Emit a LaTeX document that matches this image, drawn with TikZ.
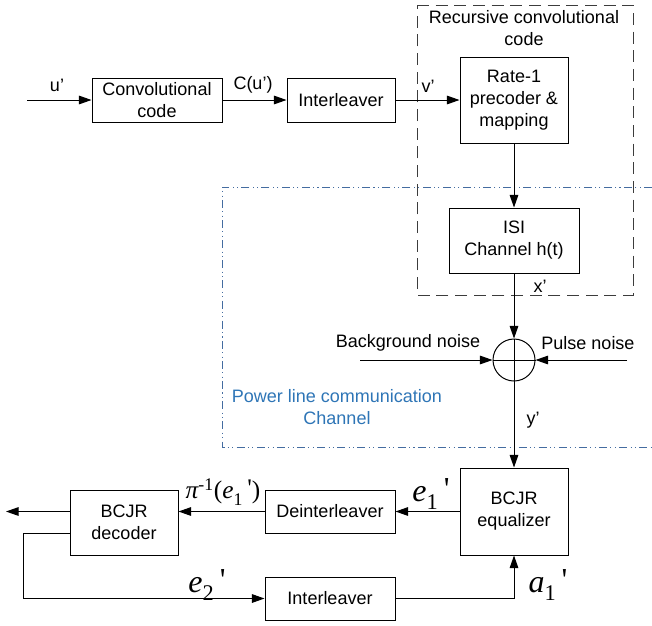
\documentclass[tikz,border=0pt]{standalone}
\usepackage{fontspec}
\setmainfont{Liberation Sans}
\newfontfamily\eqfont[Ligatures=TeXOff]{Liberation Serif}
\usetikzlibrary{arrows.meta,calc}

\definecolor{plcblue}{RGB}{46,117,182}
\definecolor{plcline}{RGB}{68,108,160}
\definecolor{rccgray}{RGB}{60,60,60}

% signal with subscript and straight prime, as set by an equation editor
\newcommand{\sigprm}[2]{{\itshape #1}\raisebox{-0.25ex}{\textsubscript{#2}}\,\raisebox{0.15ex}{'}}

\tikzset{every picture/.style={line width=0.75pt}}
\tikzset{
	blockbox/.style={draw, rectangle, inner sep=0pt, align=center, font=\fontsize{13.5}{16.5}\selectfont},
	sigarrow/.style={-{Triangle[length=9.5pt,width=6.5pt]}},
	lbl/.style={font=\fontsize{13.5}{16.5}\selectfont, align=center},
	mathlbl/.style={inner sep=0pt, font=\eqfont\fontsize{24}{26}\selectfont}}

\begin{document}
\begin{tikzpicture}[x=0.75pt,y=0.75pt,yscale=-1,xscale=1]
	\path[use as bounding box] (0,0) rectangle (652,625);

	%Shape: Dashed Rectangle [recursive convolutional code]
	\draw [color=rccgray, dash pattern={on 9pt off 5pt}] (417,5) -- (633,5) -- (633,295) -- (417,295) -- cycle ;
	%Shape: Dash-dot frame [power line channel]
	\draw [color=plcline, dash pattern={on 6pt off 2.5pt on 0.8pt off 2.5pt on 0.8pt off 2.5pt}] (652,187) -- (222,187) -- (222,447) -- (652,447) ;

	%Blocks
	\node [blockbox, minimum width=97.5pt, minimum height=33pt] (conv) at (157,100) {Convolutional\\code};
	\node [blockbox, minimum width=81pt, minimum height=33pt] (intl) at (341,100) {Interleaver};
	\node [blockbox, minimum width=81pt, minimum height=64.5pt] (prec) at (514,100) {Rate-1\\precoder \&\\mapping};
	\node [blockbox, minimum width=97.5pt, minimum height=48.75pt] (isi) at (514,240.5) {ISI\\Channel h(t)};
	\node [draw, circle, minimum size=31.5pt, inner sep=0pt] (sum) at (514,360) {};
	\draw (sum.north) -- (sum.south) (sum.west) -- (sum.east) ;
	\node [blockbox, minimum width=81pt, minimum height=65.25pt] (equ) at (514,511.5) {BCJR\\equalizer};
	\node [blockbox, minimum width=97.5pt, minimum height=32.25pt] (dint) at (330,511.5) {Deinterleaver};
	\node [blockbox, minimum width=97.5pt, minimum height=32.25pt] (intb) at (330,598.5) {Interleaver};
	\node [blockbox, minimum width=81pt, minimum height=48.75pt] (dec) at (124,522.5) {BCJR\\decoder};

	%Free ends
	\coordinate (uin) at (27,100);
	\coordinate (bgn) at (360,360);
	\coordinate (pln) at (627,360);
	\coordinate (uout) at (6,511.5);
	\coordinate (fbk) at (23,533);

	%Connectors
	\draw [sigarrow] (uin) -- (conv.west) ;
	\draw [sigarrow] (conv.east) -- (intl.west) ;
	\draw [sigarrow] (intl.east) -- (prec.west) ;
	\draw [sigarrow] (prec.south) -- (isi.north) ;
	\draw [sigarrow] (isi.south) -- (sum.north) ;
	\draw [sigarrow] (bgn) -- (sum.west) ;
	\draw [sigarrow] (pln) -- (sum.east) ;
	\draw [sigarrow] (sum.south) -- (equ.north) ;
	\draw [sigarrow] (equ.west) -- (dint.east) ;
	\draw [sigarrow] (dint.west) -- (dint.west -| dec.east) ;
	\draw [sigarrow] (dec.west |- uout) -- (uout) ;
	\draw [sigarrow] (dec.west |- fbk) -- (fbk) |- (intb.west) ;
	\draw [sigarrow] (intb.east) -| (equ.south) ;

	% Text Node
	\node [lbl] (rcc) at (524,28) {Recursive convolutional\\code};
	% Text Node
	\node [lbl, text=plcblue] (plc) at (337,407) {Power line communication\\Channel};
	% Text Node
	\node [lbl] (bglbl) at (408,343) {Background noise};
	% Text Node
	\node [lbl] (pllbl) at (588,343) {Pulse noise};
	% Text Node
	\node [lbl] (ulbl) at (57,85) {u’};
	% Text Node
	\node [lbl] (culbl) at (253,85) {C(u’)};
	% Text Node
	\node [lbl] (vlbl) at (428,86) {v’};
	% Text Node
	\node [lbl] (xlbl) at (540,286) {x’};
	% Text Node
	\node [lbl] (ylbl) at (533,420) {y’};
	% Text Node
	\node [mathlbl] (e1lbl) at (431,494) {\sigprm{e}{1}};
	% Text Node
	\node [mathlbl, font=\eqfont\fontsize{19}{22}\selectfont] (pilbl) at (223,492) {{\itshape π}\textsuperscript{-1}(\sigprm{e}{1})};
	% Text Node
	\node [mathlbl] (e2lbl) at (207,585) {\sigprm{e}{2}};
	% Text Node
	\node [mathlbl] (a1lbl) at (548,585) {\sigprm{a}{1}};

\end{tikzpicture}
\end{document}
